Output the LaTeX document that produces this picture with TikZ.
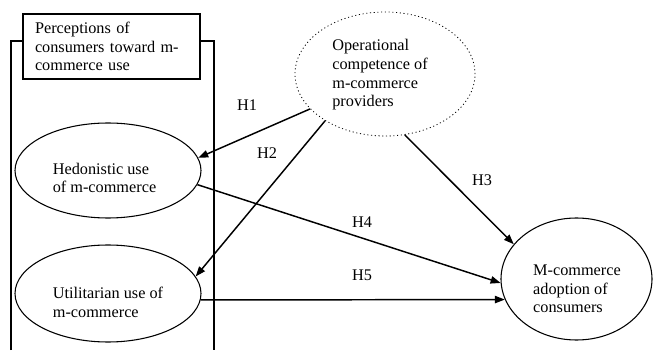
\documentclass[tikz,border=0pt]{standalone}
\usepackage{fontspec}
\setmainfont{Liberation Serif}
\usetikzlibrary{arrows.meta,shapes.geometric}
\tikzset{
  base/.style={font=\fontsize{12.2}{14}\selectfont, align=left, inner sep=0pt, text=black},
  oval/.style={ellipse, draw, line width=0.8pt, inner sep=0pt},
  ovald/.style={oval, dotted, line width=0.6pt},
  tag/.style={base, rectangle, draw, fill=white, line width=0.8pt},
  arr/.style={-{Triangle[length=7.5pt,width=5.5pt]}, line width=1.1pt},
  hlab/.style={base},
}
\begin{document}
\begin{tikzpicture}[x=0.75pt,y=0.75pt]
  \useasboundingbox (0,0) rectangle (653,350);
  % frame round the perceptions
  \draw[line width=0.8pt] (11,0) -- (11,309) -- (214,309) -- (214,0);
  \node[tag, text width=114.75pt, inner xsep=9pt, minimum height=48.75pt] (percep) at (111.5,303.5)
    {Perceptions of\\consumers toward m-\\commerce use};
  % constructs
  \node[ovald, minimum width=135pt, minimum height=93pt] (ops) at (385,276) {};
  \node[base] (opstxt) at (380,275) {Operational\\competence of\\m-commerce\\providers};
  \node[oval, minimum width=139.5pt, minimum height=71.25pt] (hed) at (108,179.5) {};
  \node[base] (hedtxt) at (104.5,172) {Hedonistic use\\of m-commerce};
  \node[oval, minimum width=139.5pt, minimum height=72.75pt] (util) at (108,56.5) {};
  \node[base] (utiltxt) at (108,47.5) {Utilitarian use of\\m-commerce};
  \node[oval, minimum width=113.25pt, minimum height=91.5pt] (adopt) at (576.5,71) {};
  \node[base] (adopttxt) at (577,61) {M-commerce\\adoption of\\consumers};
  % hypotheses
  \draw[arr] (ops.205.6) -- (hed.8.3);
  \draw[arr] (ops.218.3) -- (util.11.1);
  \draw[arr] (ops.288.2) -- (adopt.151.8);
  \draw[arr] (hed.351.1) -- (adopt.183);
  \draw[arr] (util.356) -- (adopt.196.5);
  \node[hlab] (h1) at (247,245) {H1};
  \node[hlab] (h2) at (267,197) {H2};
  \node[hlab] (h3) at (482,170) {H3};
  \node[hlab] (h4) at (362,128) {H4};
  \node[hlab] (h5) at (362,75) {H5};
\end{tikzpicture}
\end{document}
